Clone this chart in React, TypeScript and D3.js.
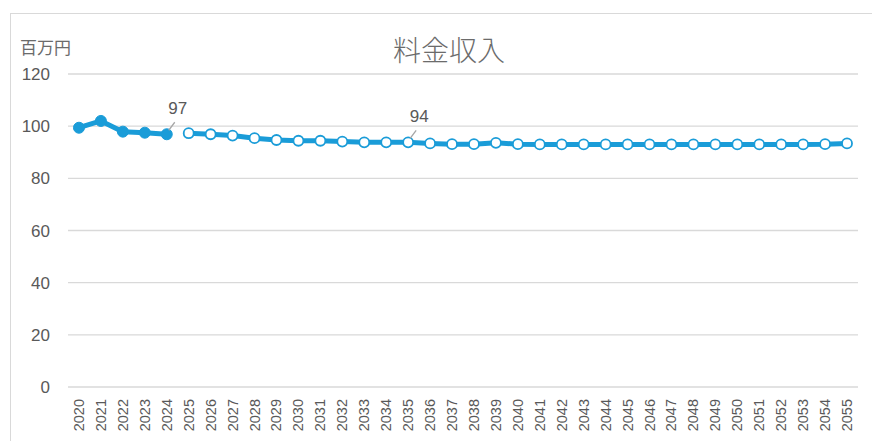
import React from 'react';
import * as d3 from 'd3';

const years: string[] = d3.range(2020, 2056).map(String);
const actualYears = ['2020', '2021', '2022', '2023', '2024'];
const actualValues = [99.4, 102.0, 97.9, 97.5, 96.9];
const forecastYears = years.slice(5);
const forecastValues = [
  97.3, 96.9, 96.4, 95.4, 94.7, 94.4, 94.4, 94.1, 93.8, 93.8, 93.8,
  93.4, 93.1, 93.1, 93.6, 93.1, 93.0, 93.0, 93.0, 93.0, 93.0, 93.0,
  93.0, 93.0, 93.0, 93.0, 93.0, 93.0, 93.0, 93.1, 93.4,
];
const yTicks = [0, 20, 40, 60, 80, 100, 120];
const labels = [
  { year: '2024', value: 96.9, text: '97' },
  { year: '2035', value: 93.8, text: '94' },
];

const W = 872;
const H = 441;
const margin = { top: 74, right: 14, bottom: 54, left: 68 };
const blue = '#1a9cd8';
const grey = '#595959';
const numFont = '"Liberation Sans", Arial, sans-serif';
const jpFont = '"Noto Sans CJK JP", sans-serif';

const App: React.FC = () => {
  const x = d3.scaleBand<string>().domain(years).range([margin.left, W - margin.right]);
  const cx = (d: string) => (x(d) as number) + x.bandwidth() / 2;
  const y = d3.scaleLinear().domain([0, 120]).range([H - margin.bottom, margin.top]);

  const line = d3.line<[string, number]>().x(d => cx(d[0])).y(d => y(d[1]));
  const actual: [string, number][] = actualYears.map((d, i) => [d, actualValues[i]]);
  const forecast: [string, number][] = forecastYears.map((d, i) => [d, forecastValues[i]]);

  return (
    <svg width={W} height={H} style={{ position: 'absolute', left: 0, top: 0 }}>
      <rect x={10.5} y={13.5} width={W} height={H} fill="#fff" stroke="#d9d9d9" strokeWidth={1} />
      <text x={449} y={61} textAnchor="middle" fontFamily={jpFont} fontWeight={300} fontSize={28} fill="#6b6b6b">
        料金収入
      </text>
      <text x={20} y={54} fontFamily={jpFont} fontSize={17} fill="#6b6b6b">
        百万円
      </text>
      {yTicks.map(t => (
        <g key={t}>
          <line x1={margin.left} x2={W - margin.right} y1={y(t)} y2={y(t)} stroke="#d9d9d9" strokeWidth={1.3} />
          <text x={50} y={y(t) + 6} textAnchor="end" fontFamily={numFont} fontSize={17} fill={grey}>
            {t}
          </text>
        </g>
      ))}
      {years.map(d => (
        <text
          key={d}
          transform={`translate(${cx(d) + 5},399) rotate(-90)`}
          textAnchor="end"
          fontFamily={numFont}
          fontSize={14.5}
          fill={grey}
        >
          {d}
        </text>
      ))}
      <path d={line(actual) || ''} fill="none" stroke={blue} strokeWidth={5} strokeLinejoin="round" />
      <path d={line(forecast) || ''} fill="none" stroke={blue} strokeWidth={5} strokeLinejoin="round" />
      {actual.map(d => (
        <circle key={d[0]} cx={cx(d[0])} cy={y(d[1])} r={5.5} fill={blue} stroke={blue} strokeWidth={1} />
      ))}
      {forecast.map(d => (
        <circle key={d[0]} cx={cx(d[0])} cy={y(d[1])} r={5} fill="#fff" stroke={blue} strokeWidth={1.8} />
      ))}
      {labels.map(l => (
        <g key={l.year}>
          <line
            x1={cx(l.year) + 2}
            y1={y(l.value) - 4}
            x2={cx(l.year) + 8}
            y2={y(l.value) - 12}
            stroke="#a6a6a6"
            strokeWidth={1.3}
          />
          <text x={cx(l.year) + 11} y={y(l.value) - 20} textAnchor="middle" fontFamily={numFont} fontSize={17} fill={grey}>
            {l.text}
          </text>
        </g>
      ))}
    </svg>
  );
};

export default App;
